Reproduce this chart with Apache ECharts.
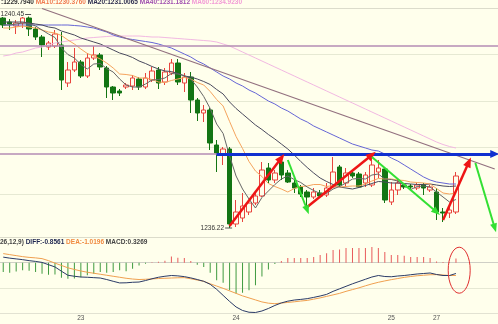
<!DOCTYPE html>
<html><head><meta charset="utf-8">
<script src="https://cdn.jsdelivr.net/npm/echarts@6/dist/echarts.min.js"></script>
<style>html,body{margin:0;padding:0;background:#ffffec;}#c{width:498px;height:324px;}</style>
</head><body><div id="c"></div>
<script>
const categories = Array.from({length: 77}, (_, i) => 'k' + i);
const tickIndex = [12, 36, 60, 67];
const tickText = ['23', '24', '25', '27'];

// [open, close, lowest, highest]
const candles = [
[1240.42,1240.28,1240.22,1240.44],[1240.34,1240.30,1240.18,1240.40],[1240.26,1240.32,1240.10,1240.38],
[1240.32,1240.42,1240.22,1240.44],[1240.42,1240.20,1240.06,1240.45],[1240.20,1240.04,1239.98,1240.24],
[1240.04,1239.88,1239.64,1240.08],[1239.84,1239.92,1239.78,1239.96],[1239.86,1240.10,1239.82,1240.18],
[1239.88,1239.18,1238.98,1240.14],[1239.12,1239.38,1239.04,1239.54],[1239.38,1239.54,1239.34,1239.82],
[1239.54,1239.26,1239.22,1239.58],[1239.26,1239.62,1239.22,1239.72],[1239.62,1239.68,1239.58,1239.86],
[1239.68,1239.44,1239.38,1239.72],[1239.42,1239.04,1238.82,1239.46],[1239.04,1238.92,1238.78,1239.06],
[1238.96,1238.92,1238.86,1239.00],[1239.04,1239.08,1239.00,1239.12],[1239.06,1239.22,1238.98,1239.28],
[1239.20,1239.04,1238.98,1239.24],[1239.04,1239.22,1239.00,1239.32],[1239.18,1239.36,1239.14,1239.44],
[1239.38,1239.12,1239.00,1239.44],[1239.14,1239.34,1239.08,1239.42],[1239.32,1239.52,1239.28,1239.60],
[1239.52,1239.14,1239.08,1239.60],[1239.12,1239.24,1238.94,1239.32],[1239.24,1238.78,1238.52,1239.34],
[1238.78,1238.52,1238.36,1238.82],[1238.52,1238.58,1238.34,1238.68],[1238.58,1237.92,1237.78,1238.62],
[1237.88,1237.72,1237.34,1237.98],[1237.70,1237.80,1237.48,1237.84],[1237.80,1236.30,1236.22,1237.84],
[1236.30,1236.54,1236.24,1236.78],[1236.42,1236.66,1236.34,1236.92],[1236.54,1236.72,1236.48,1236.78],
[1236.72,1236.86,1236.68,1236.94],[1236.86,1237.38,1236.84,1237.54],[1237.42,1237.18,1237.12,1237.52],
[1237.18,1237.32,1237.12,1237.38],[1237.54,1237.28,1237.18,1237.62],[1237.32,1237.14,1237.12,1237.38],
[1237.12,1237.02,1236.92,1237.18],[1237.04,1236.90,1236.84,1237.08],[1236.94,1236.84,1236.64,1236.98],
[1236.84,1236.94,1236.80,1237.02],[1236.92,1236.86,1236.82,1236.98],[1236.88,1237.02,1236.84,1237.12],
[1237.04,1237.34,1237.02,1237.64],[1237.44,1237.08,1237.04,1237.48],[1237.12,1237.32,1237.04,1237.42],
[1237.32,1237.26,1237.22,1237.34],[1237.30,1237.04,1237.02,1237.34],[1237.12,1237.28,1237.04,1237.34],
[1237.08,1237.48,1237.04,1237.64],[1237.34,1237.42,1237.22,1237.58],[1237.40,1236.78,1236.72,1237.42],
[1236.74,1236.98,1236.68,1237.14],[1236.98,1237.12,1236.88,1237.22],[1237.08,1237.04,1237.00,1237.12],
[1237.06,1237.04,1237.00,1237.10],[1237.02,1237.08,1236.98,1237.12],[1237.08,1237.02,1236.88,1237.12],
[1236.98,1237.04,1236.94,1237.08],[1236.94,1236.54,1236.38,1237.02],[1236.54,1236.52,1236.34,1236.62],
[1236.52,1236.58,1236.42,1236.68],[1236.54,1237.26,1236.50,1237.34]
];

const ma5 = [1240.28,1240.28,1240.30,1240.32,1240.31,1240.26,1240.18,1240.10,1240.03,1239.82,
1239.69,1239.62,1239.49,1239.40,1239.50,1239.51,1239.41,1239.34,1239.20,1239.08,
1239.04,1239.04,1239.10,1239.18,1239.19,1239.22,1239.31,1239.30,1239.27,1239.20,
1239.04,1238.85,1238.61,1238.30,1238.11,1237.66,1237.26,1237.00,1236.80,1236.62,
1236.83,1236.96,1237.09,1237.20,1237.26,1237.19,1237.13,1237.04,1236.97,1236.91,
1236.91,1237.00,1237.05,1237.12,1237.20,1237.21,1237.20,1237.28,1237.30,1237.20,
1237.19,1237.16,1237.07,1236.99,1237.05,1237.06,1237.04,1236.94,1236.84,1236.74,1236.79];
const ma10 = [1240.22,1240.22,1240.24,1240.26,1240.24,1240.22,1240.18,1240.14,1240.12,1240.07,
1239.98,1239.90,1239.80,1239.71,1239.66,1239.60,1239.52,1239.42,1239.30,1239.29,
1239.27,1239.22,1239.22,1239.19,1239.14,1239.13,1239.17,1239.20,1239.23,1239.20,
1239.13,1239.08,1238.95,1238.79,1238.66,1238.35,1238.05,1237.81,1237.55,1237.36,
1237.25,1237.11,1237.05,1237.00,1236.94,1237.01,1237.05,1237.06,1237.09,1237.09,
1237.05,1237.07,1237.04,1237.05,1237.06,1237.06,1237.10,1237.16,1237.21,1237.20,
1237.20,1237.18,1237.17,1237.14,1237.13,1237.12,1237.10,1237.01,1236.92,1236.90,1236.92];
const ma20 = [1240.34,1240.34,1240.34,1240.34,1240.32,1240.30,1240.28,1240.24,1240.22,1240.16,
1240.12,1240.08,1240.02,1239.98,1239.94,1239.90,1239.84,1239.78,1239.72,1239.68,
1239.63,1239.56,1239.51,1239.45,1239.40,1239.36,1239.35,1239.31,1239.26,1239.24,
1239.20,1239.15,1239.09,1238.99,1238.90,1238.74,1238.61,1238.50,1238.39,1238.28,
1238.19,1238.09,1238.00,1237.90,1237.80,1237.68,1237.55,1237.43,1237.32,1237.22,
1237.15,1237.09,1237.04,1237.02,1237.00,1237.03,1237.07,1237.11,1237.15,1237.14,
1237.12,1237.12,1237.11,1237.10,1237.09,1237.09,1237.10,1237.08,1237.06,1237.05,1237.06];
const ma40 = [1240.28,1240.28,1240.28,1240.28,1240.28,1240.28,1240.28,1240.28,1240.28,1240.28,
1240.28,1240.27,1240.26,1240.24,1240.22,1240.18,1240.14,1240.08,1240.04,1240.01,
1239.99,1239.97,1239.95,1239.93,1239.90,1239.86,1239.82,1239.76,1239.70,1239.64,
1239.56,1239.50,1239.42,1239.34,1239.26,1239.20,1239.12,1239.06,1238.98,1238.92,
1238.84,1238.76,1238.70,1238.62,1238.56,1238.48,1238.40,1238.34,1238.26,1238.20,
1238.14,1238.08,1238.02,1237.96,1237.90,1237.86,1237.82,1237.78,1237.76,1237.70,
1237.62,1237.56,1237.48,1237.40,1237.32,1237.24,1237.18,1237.14,1237.12,1237.10,1237.10];
const ma60 = [1239.66,1239.68,1239.72,1239.74,1239.78,1239.82,1239.84,1239.88,1239.92,1239.94,
1239.96,1239.98,1240.00,1240.02,1240.03,1240.04,1240.05,1240.06,1240.06,1240.06,
1240.06,1240.06,1240.05,1240.04,1240.04,1240.03,1240.02,1240.01,1240.00,1239.99,
1239.98,1239.97,1239.96,1239.94,1239.90,1239.86,1239.80,1239.74,1239.68,1239.62,
1239.56,1239.50,1239.44,1239.38,1239.32,1239.26,1239.20,1239.14,1239.08,1239.02,
1238.96,1238.90,1238.84,1238.78,1238.72,1238.66,1238.60,1238.54,1238.48,1238.42,
1238.36,1238.30,1238.24,1238.18,1238.12,1238.06,1238.00,1237.94,1237.89,1237.85,1237.82];

const diff = [0.44,0.36,0.30,0.24,0.16,0.10,0.02,-0.16,-0.34,-0.68,
-1.00,-1.08,-1.14,-1.16,-1.19,-1.22,-1.34,-1.48,-1.61,-1.60,
-1.56,-1.54,-1.42,-1.28,-1.16,-1.08,-1.02,-1.05,-1.11,-1.21,
-1.34,-1.48,-1.72,-2.12,-2.60,-3.08,-3.52,-3.80,-3.94,-3.96,
-3.84,-3.64,-3.40,-3.20,-3.06,-2.97,-2.92,-2.86,-2.76,-2.65,
-2.52,-2.28,-2.08,-1.88,-1.68,-1.50,-1.32,-1.14,-1.02,-1.10,
-1.12,-1.06,-1.02,-0.96,-0.90,-0.86,-0.82,-0.94,-1.02,-1.02,-0.86];
const dea = [0.72,0.64,0.56,0.48,0.42,0.38,0.32,0.16,-0.04,-0.22,
-0.41,-0.54,-0.66,-0.76,-0.84,-0.92,-1.00,-1.08,-1.16,-1.24,
-1.30,-1.34,-1.32,-1.29,-1.26,-1.24,-1.22,-1.20,-1.19,-1.28,
-1.38,-1.48,-1.68,-1.86,-2.04,-2.24,-2.44,-2.64,-2.80,-2.96,
-3.12,-3.22,-3.26,-3.21,-3.16,-3.11,-3.05,-3.00,-2.90,-2.80,
-2.68,-2.56,-2.44,-2.28,-2.14,-2.00,-1.84,-1.69,-1.56,-1.45,
-1.35,-1.26,-1.17,-1.10,-1.04,-1.00,-0.96,-0.95,-0.98,-1.02,-1.02];
const macd = [-0.75,-0.8,-0.7,-0.6,-0.65,-0.75,-0.88,-0.96,-0.95,-1.2,
-1.28,-1.25,-1.15,-1.0,-0.88,-0.75,-0.8,-0.75,-0.6,-0.68,
-0.48,-0.22,-0.08,0.03,0.08,0.15,0.5,0.4,0.37,0.13,
-0.16,-0.35,-0.8,-1.4,-1.6,-2.2,-2.45,-2.4,-2.2,-1.8,
-1.1,-0.55,-0.1,0.13,0.37,0.37,0.37,0.37,0.45,0.6,
0.75,1.0,1.05,1.17,1.17,1.17,1.17,1.25,1.17,0.85,
0.6,0.6,0.55,0.45,0.45,0.45,0.37,0.1,0.05,0.03,0.33];

// drawn annotations (data coordinates: [category index, price])
const levelLines = [1239.86, 1237.70];
const trendLine = [[6, 1240.61], [76, 1237.40]];
const blueArrow = [[33, 1237.70], [76, 1237.70]];
const redArrows = [[[35, 1236.26], [43, 1237.62]], [[47, 1236.64], [57, 1237.68]], [[68, 1236.38], [72, 1237.54]]];
const greenArrows = [[[44, 1237.58], [47, 1236.58]], [[57, 1237.64], [67, 1236.54]], [[73, 1237.52], [76, 1236.22]]];
const highMark = [4, 1240.45];
const lowMark = [35, 1236.22];

const FONT = 'Liberation Sans';
const BG = '#ffffec';
const chart = echarts.init(document.getElementById('c'), null, {renderer: 'canvas'});
const NOLABEL = {show: false};

function arrow(seg, color, width, size) {
  return [
    {coord: seg[0], symbol: 'none', label: NOLABEL, lineStyle: {color: color, width: width, type: 'solid'}},
    {coord: seg[1], symbol: 'triangle', symbolSize: size, label: NOLABEL}
  ];
}
const levelData = levelLines.map(v => ({yAxis: v, label: NOLABEL, lineStyle: {color: '#b48cb4', width: 1.5, type: 'solid'}}));
levelData.push([{coord: trendLine[0], label: NOLABEL, lineStyle: {color: '#92707f', width: 1.2, type: 'solid'}}, {coord: trendLine[1], label: NOLABEL}]);
const arrowData = [arrow(blueArrow, '#1030d0', 3, [8, 9])];
redArrows.forEach(s => arrowData.push(arrow(s, '#ee1515', 2.5, [8, 10])));
greenArrows.forEach(s => arrowData.push(arrow(s, '#33e033', 2, [7, 9])));

const txt = (c) => ({color: c, fontSize: 6.5, fontFamily: FONT});

const option = {
  animation: false,
  backgroundColor: BG,
  textStyle: {fontFamily: FONT},
  title: [
    {left: 1, top: -1, padding: 0,
     text: '{a|:1229.7940} {b|MA10:1230.3760} {c|MA20:1231.0065} {d|MA40:1231.1812} {e|MA60:1234.9230}',
     textStyle: {fontSize: 6.5, fontFamily: FONT, rich: {a: txt('#333333'), b: txt('#f07a50'), c: txt('#2e2e50'), d: txt('#a050b0'), e: txt('#f29ad6')}}},
    {left: 0, top: 239, padding: 0,
     text: '{g|26,12,9)} {h|DIFF:-0.8561} {i|DEA:-1.0196} {g|MACD:0.3269}',
     textStyle: {fontSize: 6.5, fontFamily: FONT, rich: {g: txt('#444444'), h: txt('#1e2650'), i: txt('#f08a40')}}}
  ],
  grid: [
    {left: 0, right: 0, top: 8, height: 230},
    {left: 0, right: 0, top: 237.5, height: 75.5}
  ],
  xAxis: [
    {type: 'category', gridIndex: 0, data: categories, boundaryGap: true,
     axisLine: {show: false}, axisTick: {show: false}, axisLabel: {show: false}, splitLine: {show: false}},
    {type: 'category', gridIndex: 1, data: categories, boundaryGap: true,
     axisLine: {show: false}, axisTick: {show: false}, splitLine: {show: false},
     axisLabel: {show: true, margin: 2, fontSize: 6.5, color: '#555555', fontFamily: FONT,
       interval: (idx) => tickIndex.indexOf(idx) >= 0,
       formatter: (v, idx) => tickText[tickIndex.indexOf(idx)] || ''}}
  ],
  yAxis: [
    {type: 'value', gridIndex: 0, min: 1236.02, max: 1240.62, show: false},
    {type: 'value', gridIndex: 0, min: 0, max: 4.946, interval: 1, inverse: true,
     axisLine: {show: false}, axisTick: {show: false}, axisLabel: {show: false},
     splitLine: {show: true, showMaxLine: false, lineStyle: {color: ['#dcdccb', '#e6e9d3', '#e6e9d3', '#e6e9d3', '#e6e9d3'], width: 1}}},
    {type: 'value', gridIndex: 1, min: -4, max: 2, interval: 2,
     axisLine: {show: false}, axisTick: {show: false}, axisLabel: {show: false},
     splitLine: {show: true, lineStyle: {color: ['#e2e2d2', '#e6e8d4', '#cfcfc6', '#dcdccb'], width: 1}}}
  ],
  series: [
    {type: 'candlestick', xAxisIndex: 0, yAxisIndex: 0, data: candles, barWidth: 5,
     itemStyle: {color: BG, color0: '#137513', borderColor: '#e8453e', borderColor0: '#137513', borderWidth: 1},
     markPoint: {silent: true, animation: false,
       data: [
         {coord: highMark, symbol: 'rect', symbolSize: [6, 1], symbolOffset: [-1, -2],
          itemStyle: {color: '#555555'},
          label: {show: true, position: 'left', distance: 1, formatter: '1240.45', fontSize: 6.5, color: '#333333', fontFamily: FONT}},
         {coord: lowMark, symbol: 'rect', symbolSize: [7, 1], symbolOffset: [-1, 0],
          itemStyle: {color: '#555555'},
          label: {show: true, position: 'left', distance: 1, formatter: '1236.22', fontSize: 6.5, color: '#333333', fontFamily: FONT}}
       ]}},
    {name: 'levels', type: 'line', xAxisIndex: 0, yAxisIndex: 0, data: [], z: 1,
     markLine: {silent: true, animation: false, symbol: ['none', 'none'], label: NOLABEL, emphasis: {label: NOLABEL}, data: levelData}},
    {name: 'MA60', type: 'line', xAxisIndex: 0, yAxisIndex: 0, data: ma60, showSymbol: false, lineStyle: {color: '#f2b8e2', width: 1}},
    {name: 'MA40', type: 'line', xAxisIndex: 0, yAxisIndex: 0, data: ma40, showSymbol: false, lineStyle: {color: '#6565d6', width: 1}},
    {name: 'MA20', type: 'line', xAxisIndex: 0, yAxisIndex: 0, data: ma20, showSymbol: false, lineStyle: {color: '#4a4a5e', width: 1}},
    {name: 'MA10', type: 'line', xAxisIndex: 0, yAxisIndex: 0, data: ma10, showSymbol: false, lineStyle: {color: '#f5a45e', width: 1}},
    {name: 'MA5', type: 'line', xAxisIndex: 0, yAxisIndex: 0, data: ma5, showSymbol: false, lineStyle: {color: '#666666', width: 1}},
    {name: 'arrows', type: 'line', xAxisIndex: 0, yAxisIndex: 0, data: [], z: 5,
     markLine: {silent: true, animation: false, symbol: ['none', 'triangle'], label: NOLABEL, emphasis: {label: NOLABEL}, data: arrowData}},
    {name: 'MACD', type: 'bar', xAxisIndex: 1, yAxisIndex: 2, data: macd, barWidth: 1,
     itemStyle: {color: (p) => p.value >= 0 ? '#e85a5a' : '#3f9a3f'}},
    {name: 'DEA', type: 'line', xAxisIndex: 1, yAxisIndex: 2, data: dea, showSymbol: false, lineStyle: {color: '#f0a050', width: 1}},
    {name: 'DIFF', type: 'line', xAxisIndex: 1, yAxisIndex: 2, data: diff, showSymbol: false, lineStyle: {color: '#2a3a66', width: 1}}
  ]
};
chart.setOption(option);

const pA = chart.convertToPixel({gridIndex: 1}, [70, -0.6]);
const pB = chart.convertToPixel({gridIndex: 1}, [71, -0.6]);
chart.setOption({graphic: [{type: 'ellipse', silent: true, z: 100,
  shape: {cx: (pA[0] + pB[0]) / 2, cy: pA[1], rx: 11, ry: 23},
  style: {fill: 'none', stroke: '#e03030', lineWidth: 1}}]});
</script></body></html>
